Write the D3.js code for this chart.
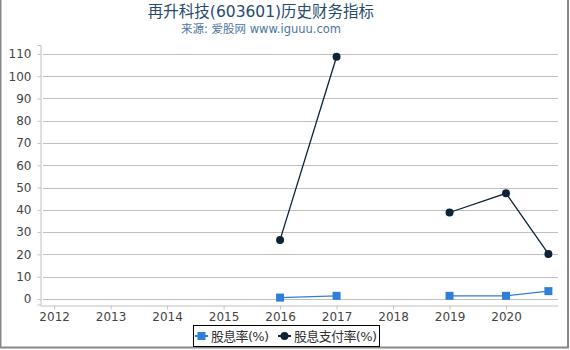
<!DOCTYPE html>
<html>
<head>
<meta charset="utf-8">
<script src="https://cdn.jsdelivr.net/npm/d3@7"></script>
<style>
    body {margin: 0; background: #fff;}
    svg {display: block; font-family: "DejaVu Sans", "Noto Sans CJK SC", sans-serif;}
</style>
</head>
<body>
<div id="container"></div>
<script>
// data (null = no value that year)
var years = [2016, 2017, 2018, 2019, 2020, 2020.75];
var yieldRate = [0.6, 1.4, null, 1.4, 1.4, 3.5];        // 股息率(%)
var payoutRate = [26.5, 108.7, null, 38.8, 47.4, 20.2]; // 股息支付率(%)
var xTicks = [2012, 2013, 2014, 2015, 2016, 2017, 2018, 2019, 2020];
var yTicks = [0, 10, 20, 30, 40, 50, 60, 70, 80, 90, 100, 110];
var seriesNames = ['股息率(%)', '股息支付率(%)'];
var seriesColors = ['#2f7ed8', '#0d233a'];

function drawChart() {
    var W = 570, H = 350;
    var svg = d3.select('#container').append('svg').attr('width', W).attr('height', H);

    // outer frame
    svg.append('rect').attr('x', 0.5).attr('y', -2).attr('width', W - 2.5).attr('height', H - 0.5)
        .attr('fill', 'none').attr('stroke', '#888').attr('stroke-width', 2);

    var x = d3.scaleLinear().domain([2011.75, 2020.92]).range([40, 558]);
    var y = d3.scaleLinear().domain([-2.5, 114]).range([304.5, 45]);

    // title
    svg.append('text').attr('x', 261).attr('y', 17).attr('text-anchor', 'middle')
        .attr('font-size', 15.5).attr('fill', '#274b6d').text('再升科技(603601)历史财务指标');
    svg.append('text').attr('x', 261).attr('y', 32.5).attr('text-anchor', 'middle')
        .attr('font-size', 11.5).attr('fill', '#4d759e').text('来源: 爱股网 www.iguuu.com');

    // grid
    svg.append('g').selectAll('line').data(yTicks).enter().append('line')
        .attr('x1', 43).attr('x2', 558)
        .attr('y1', function (d) { return Math.round(y(d)) + 0.5; })
        .attr('y2', function (d) { return Math.round(y(d)) + 0.5; })
        .attr('stroke', '#c0c0c0').attr('stroke-width', 1);

    // y axis
    var yAxis = d3.axisLeft(y).tickValues(yTicks).tickSize(3).tickPadding(6);
    var gy = svg.append('g').attr('transform', 'translate(40.5,0)').call(yAxis);
    gy.select('.domain').attr('stroke', '#c0c0c0');
    gy.selectAll('.tick line').attr('stroke', '#c0c0c0');
    gy.selectAll('.tick text').attr('font-size', 12).attr('fill', '#444')
        .attr('font-family', '"DejaVu Sans", sans-serif');

    // x axis
    var xAxis = d3.axisBottom(x).tickValues(xTicks).tickFormat(d3.format('d')).tickSize(4).tickPadding(3).tickSizeOuter(0);
    var gx = svg.append('g').attr('transform', 'translate(0,' + (Math.round(y(-2.5)) + 0.5) + ')').call(xAxis);
    gx.select('.domain').attr('stroke', '#c0c0c0');
    gx.selectAll('.tick line').attr('stroke', '#c0c0c0');
    gx.selectAll('.tick text').attr('font-size', 12).attr('fill', '#444')
        .attr('font-family', '"DejaVu Sans", sans-serif');

    var allSeries = [yieldRate, payoutRate];
    allSeries.forEach(function (vals, i) {
        var pts = years.map(function (yr, j) { return {x: yr, v: vals[j]}; });
        var line = d3.line()
            .defined(function (d) { return d.v != null; })
            .x(function (d) { return x(d.x); })
            .y(function (d) { return y(d.v); });
        svg.append('path').datum(pts).attr('d', line)
            .attr('fill', 'none').attr('stroke', seriesColors[i]).attr('stroke-width', i == 0 ? 1.2 : 1.3);
        var valid = pts.filter(function (d) { return d.v != null; });
        if (i == 0) {
            svg.append('g').selectAll('rect').data(valid).enter().append('rect')
                .attr('x', function (d) { return x(d.x) - 4; })
                .attr('y', function (d) { return y(d.v) - 4; })
                .attr('width', 8).attr('height', 8).attr('fill', seriesColors[i]);
        } else {
            svg.append('g').selectAll('circle').data(valid).enter().append('circle')
                .attr('cx', function (d) { return x(d.x); })
                .attr('cy', function (d) { return y(d.v); })
                .attr('r', 4).attr('fill', seriesColors[i]);
        }
    });

    // legend
    var lg = svg.append('g');
    lg.append('rect').attr('x', 193.5).attr('y', 325.5).attr('width', 186).attr('height', 21)
        .attr('fill', '#fff').attr('stroke', '#000').attr('stroke-width', 1);
    var itemX = [195, 278];
    seriesNames.forEach(function (name, i) {
        var cx = itemX[i];
        lg.append('line').attr('x1', cx).attr('x2', cx + 13).attr('y1', 336).attr('y2', 336)
            .attr('stroke', seriesColors[i]).attr('stroke-width', 2);
        if (i == 0) {
            lg.append('rect').attr('x', cx + 2.5).attr('y', 332).attr('width', 8).attr('height', 8).attr('fill', seriesColors[i]);
        } else {
            lg.append('circle').attr('cx', cx + 6.5).attr('cy', 336).attr('r', 4).attr('fill', seriesColors[i]);
        }
        lg.append('text').attr('x', cx + 16).attr('y', 341).attr('font-size', 13)
            .attr('textLength', i == 0 ? 58 : 83)
            .attr('fill', '#333').text(name);
    });
}

drawChart();
</script>
</body>
</html>
